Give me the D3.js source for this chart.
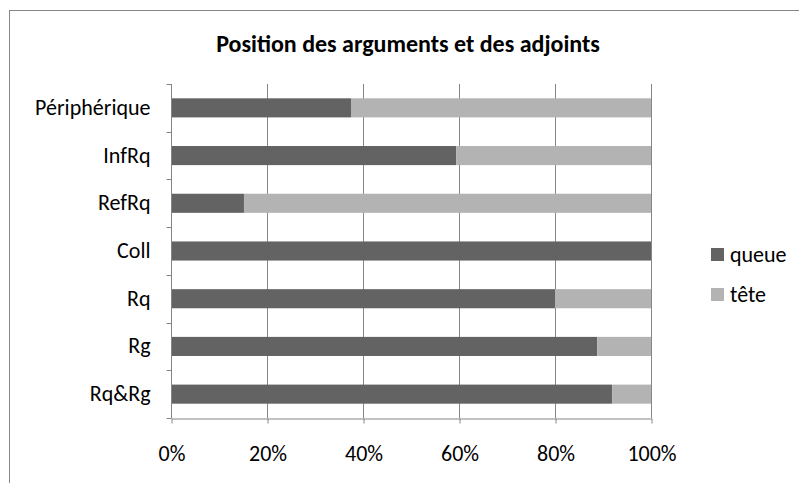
<!DOCTYPE html>
<html>
<head>
<meta charset="utf-8">
<script src="https://cdn.jsdelivr.net/npm/d3@7"></script>
<style>
  body { margin: 0; background: #fff; }
  svg { display: block; font-family: Carlito, "Open Sans", sans-serif; }
</style>
</head>
<body>
<div id="chart"></div>
<script>
const categories = ['Périphérique', 'InfRq', 'RefRq', 'Coll', 'Rq', 'Rg', 'Rq&Rg'];
const queue = [37.5, 59.4, 15.2, 100, 80, 88.8, 91.9];
const tete = [62.5, 40.6, 84.8, 0, 20, 11.2, 8.1];
const seriesNames = ['queue', 'tête'];
const tickValues = [0, 20, 40, 60, 80, 100];

const width = 799;
const height = 483;
const colors = {queue: '#636363', 'tête': '#b3b3b3'};

const svg = d3.select('#chart').append('svg')
    .attr('width', width).attr('height', height);

// chart frame
svg.append('rect')
    .attr('x', 9.5).attr('y', 10.5)
    .attr('width', 800).attr('height', 480)
    .attr('fill', 'none').attr('stroke', '#868686');

svg.append('text')
    .attr('x', 408).attr('y', 52)
    .attr('text-anchor', 'middle')
    .attr('font-size', 24).attr('font-weight', 'bold')
    .text('Position des arguments et des adjoints');

const x = d3.scaleLinear().domain([0, 100]).range([171, 651]);
const y = d3.scaleBand().domain(categories).range([84, 418]).paddingInner(0.6).paddingOuter(0.3);

const rows = categories.map((c, i) => ({cat: c, queue: queue[i], 'tête': tete[i]}));
const stacked = d3.stack().keys(seriesNames)(rows);

// gridlines
svg.append('g')
    .selectAll('line')
    .data(tickValues.slice(1))
    .enter()
    .append('line')
    .attr('x1', d => Math.round(x(d)) + 0.5).attr('x2', d => Math.round(x(d)) + 0.5)
    .attr('y1', 84).attr('y2', 418)
    .attr('stroke', '#868686');

svg.append('g')
    .selectAll('g')
    .data(stacked)
    .enter()
    .append('g')
    .attr('fill', d => colors[d.key])
    .selectAll('rect')
    .data(d => d)
    .enter()
    .append('rect')
    .attr('x', d => x(d[0]))
    .attr('width', d => x(d[1]) - x(d[0]))
    .attr('y', d => y(d.data.cat))
    .attr('height', y.bandwidth());

// y axis
const yAxis = svg.append('g')
    .attr('transform', 'translate(171.5,0)')
    .call(d3.axisLeft(y).tickSize(0).tickPadding(21));
yAxis.attr('font-family', null);
yAxis.select('.domain').attr('stroke', '#868686').attr('d', 'M0,84V418');
yAxis.selectAll('text').attr('font-size', 22).attr('fill', '#000');
// category separator ticks
const bounds = d3.range(categories.length + 1).map(i => 84 + i * (418 - 84) / categories.length);
yAxis.selectAll('.sep')
    .data(bounds)
    .enter()
    .append('line')
    .attr('class', 'sep')
    .attr('x1', -5).attr('x2', 0)
    .attr('y1', d => Math.round(d) + 0.5).attr('y2', d => Math.round(d) + 0.5)
    .attr('stroke', '#868686');

// x axis
const xAxis = svg.append('g')
    .attr('transform', 'translate(0.5,418.5)')
    .call(d3.axisBottom(x).tickValues(tickValues).tickSize(5).tickSizeOuter(0).tickPadding(22).tickFormat(d => d + '%'));
xAxis.attr('font-family', null);
xAxis.select('.domain').attr('stroke', '#868686');
xAxis.selectAll('line').attr('stroke', '#868686');
xAxis.selectAll('text').attr('font-size', 22).attr('fill', '#000');

// legend
const legend = svg.append('g')
    .selectAll('g')
    .data(seriesNames)
    .enter()
    .append('g')
    .attr('transform', (d, i) => `translate(711,${248 + i * 40})`);
legend.append('rect')
    .attr('width', 13).attr('height', 13)
    .attr('fill', d => colors[d]);
legend.append('text')
    .attr('x', 19).attr('y', 13.5)
    .attr('font-size', 22)
    .text(d => d);
</script>
</body>
</html>
